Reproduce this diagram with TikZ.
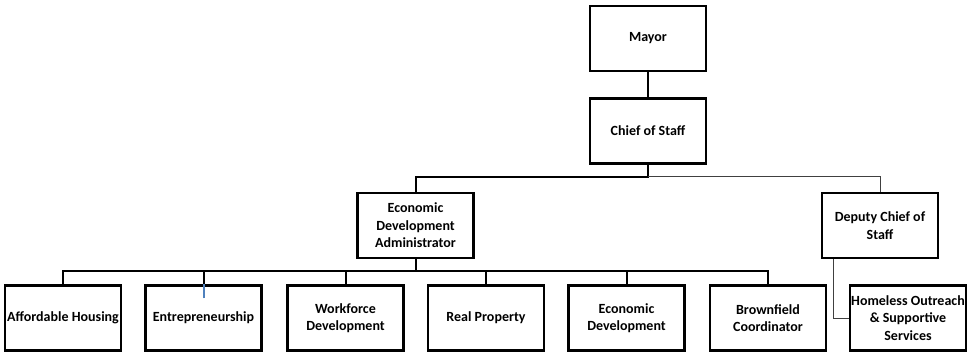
\documentclass[tikz,border=0pt]{standalone}
\usepackage{fontspec}
\setmainfont{Carlito}
\definecolor{linkblue}{HTML}{4F81BD}
\tikzset{
  orgbox/.style={draw, line width=2.4pt, minimum width=116pt, minimum height=65pt,
    align=center, inner sep=1pt, font=\fontsize{14}{17.5}\selectfont\bfseries},
  conn/.style={line width=2pt},
  thinconn/.style={line width=0.9pt, black!75}
}
\begin{document}
\begin{tikzpicture}[x=1pt,y=-1pt]
    \useasboundingbox (0,0) rectangle (967,353);

    % Top of the chart
    \node[orgbox] (mayor) at (648,38.5) {Mayor};
    \node[orgbox] (chief) at (648,131) {Chief of Staff};

    % Second level
    \node[orgbox] (eda) at (415.5,225.5) {Economic\\Development\\Administrator};
    \node[orgbox] (deputy) at (880,225.5) {Deputy Chief of\\Staff};

    % Bottom row
    \node[orgbox] (afford) at (63,318) {Affordable Housing};
    \node[orgbox] (entre) at (203.5,318) {Entrepreneurship};
    \node[orgbox] (work) at (345.5,318) {Workforce\\Development};
    \node[orgbox] (realprop) at (486,318) {Real Property};
    \node[orgbox] (econdev) at (626.5,318) {Economic\\Development};
    \node[orgbox] (brown) at (768,318) {Brownfield\\Coordinator};
    \node[orgbox, minimum width=114pt] (homeless) at (908,318) {Homeless Outreach\\\& Supportive\\Services};

    % Connectors
    \draw[conn] (mayor) -- (chief);
    \draw[conn] (chief.south) -- ++(0,12) coordinate (split) -| (eda.north);
    \draw[thinconn] (split) -| (deputy.north);
    \draw[conn] (eda.south) -- ++(0,12) coordinate (bus);
    \foreach \n in {afford,work,realprop,econdev,brown}
        \draw[conn] (bus) -| (\n.north);
    \draw[conn] (bus) -| ([yshift=-14pt]entre.north);
    \draw[conn, linkblue] ([yshift=-14pt]entre.north) -- (entre.north);
    \draw[thinconn] ([xshift=-47pt]deputy.south) |- (homeless.west);

\end{tikzpicture}
\end{document}
